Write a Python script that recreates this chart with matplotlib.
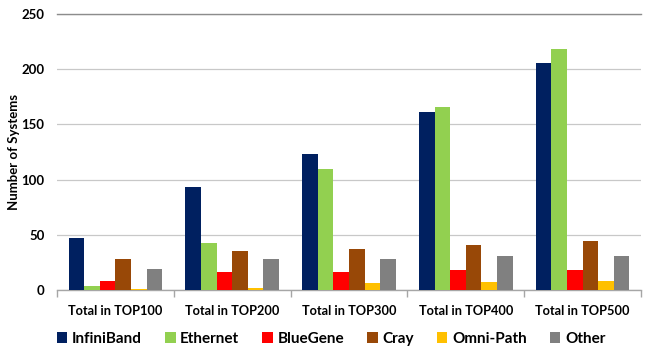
import matplotlib
matplotlib.use("Agg")
import matplotlib.pyplot as plt
import numpy as np

categories = ["Total in TOP100", "Total in TOP200", "Total in TOP300", "Total in TOP400", "Total in TOP500"]
series_names = ["InfiniBand", "Ethernet", "BlueGene", "Cray", "Omni-Path", "Other"]
infiniband = [47, 93, 123, 161, 206]
ethernet = [4, 43, 110, 166, 218]
bluegene = [8, 16, 16, 18, 18]
cray = [28, 35, 37, 41, 44]
omnipath = [1, 2, 6, 7, 8]
other = [19, 28, 28, 31, 31]
yticks = [0, 50, 100, 150, 200, 250]

colors = ["#002060", "#92D050", "#FF0000", "#984807", "#FFC000", "#808080"]
series = [infiniband, ethernet, bluegene, cray, omnipath, other]

plt.rcParams['font.family'] = ['Lato', 'DejaVu Sans']
plt.rcParams['font.weight'] = 'bold'

fig = plt.figure(figsize=(6.5, 3.55), dpi=100)
ax = fig.add_axes([57/650, 1-290/355, (641-57)/650, (290-14)/355])

n = len(series)
w = 1.0/(n + 1.5)
x = np.arange(len(categories))
for i, (vals, c, name) in enumerate(zip(series, colors, series_names)):
    ax.bar(x - 0.5 + 0.75*w + (i+0.5)*w, vals, width=w, color=c, label=name, zorder=3, linewidth=0)

ax.set_xlim(-0.5, len(categories)-0.5)
ax.set_ylim(0, 250)
ax.set_yticks(yticks)
ax.set_yticklabels([str(t) for t in yticks], fontsize=9.5, fontweight='bold')
ax.tick_params(axis='y', length=0, pad=9)
ax.yaxis.grid(True, color="#C8C8C8", linewidth=0.9, zorder=0)
ax.set_axisbelow(True)

ax.set_xticks(x)
ax.set_xticklabels(categories, fontsize=9.2, fontweight='bold')
ax.tick_params(axis='x', which='major', length=0, pad=11)
ax.set_xticks(np.arange(len(categories)+1) - 0.5, minor=True)
ax.tick_params(axis='x', which='minor', length=5, color="#A6A6A6", width=1)

for s in ['left', 'right']:
    ax.spines[s].set_visible(False)
ax.spines['top'].set_color("#8C8C8C")
ax.spines['top'].set_linewidth(1.0)
ax.spines['bottom'].set_color("#A6A6A6")
ax.spines['bottom'].set_linewidth(1.0)

fig.text(14/650, 1-152/355, "Number of Systems", rotation=90, ha='center', va='center',
         fontsize=9.5, fontweight='bold')

leg = fig.legend(loc='center', bbox_to_anchor=(331/650, 1-339/355), ncol=6, frameon=False,
                 fontsize=11, handlelength=0.7, handleheight=0.7, handletextpad=0.3,
                 columnspacing=1.5, borderaxespad=0)

fig.savefig("out.png", dpi=100)
